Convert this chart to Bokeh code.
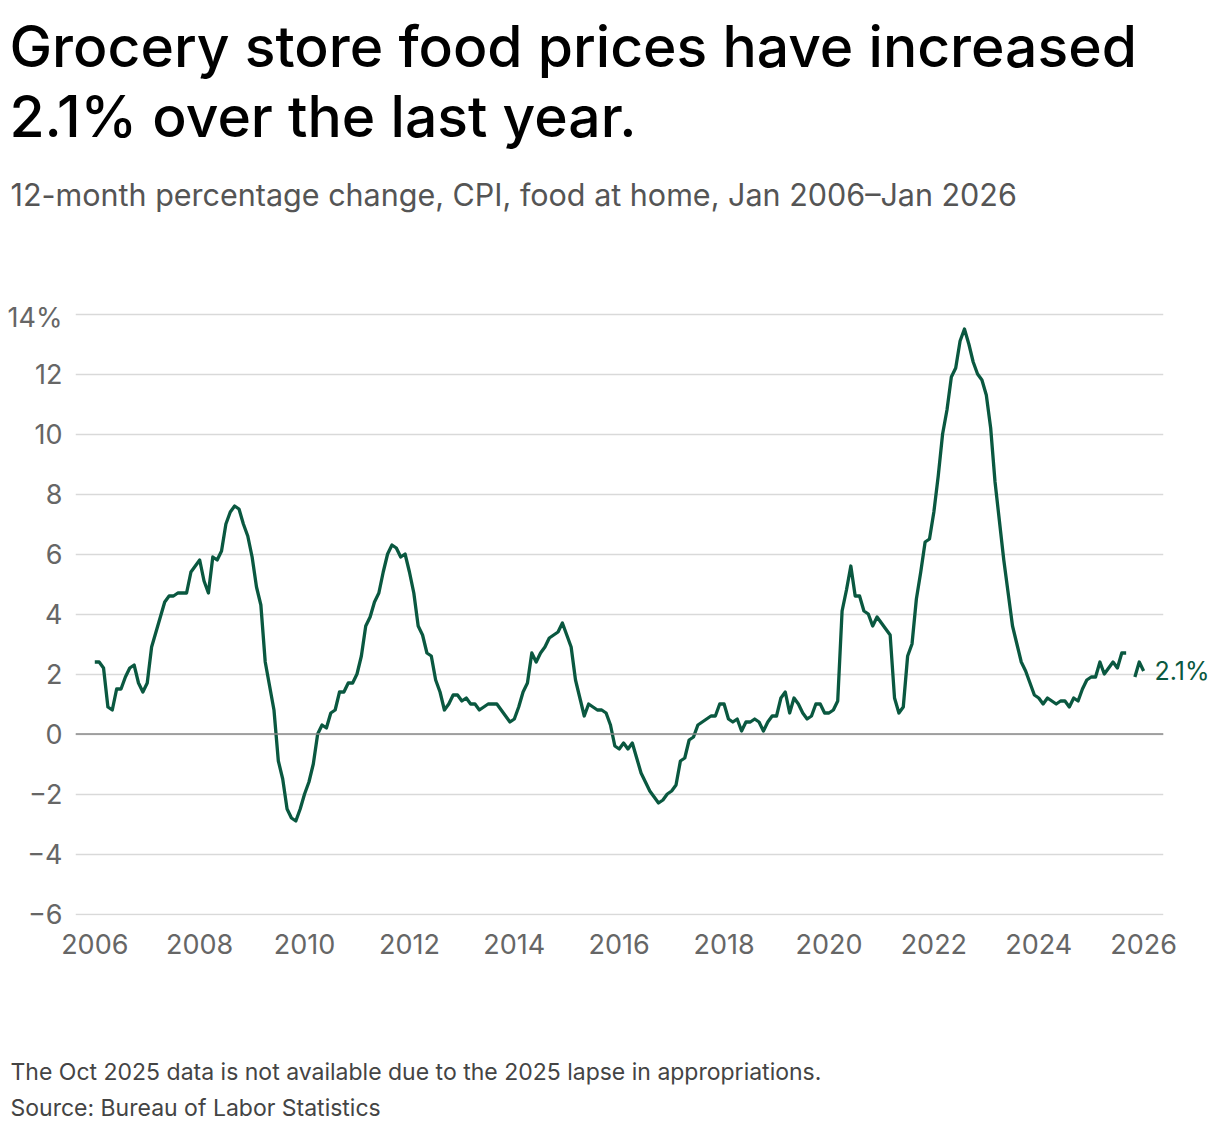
import pandas as pd
from bokeh.plotting import figure
from bokeh.layouts import column
from bokeh.models import (Label, Span, FixedTicker, CustomJSTickFormatter, Range1d,
                          ColumnDataSource, LinearAxis)
from bokeh.embed import file_html
from bokeh.resources import INLINE

# 12-month % change, CPI food at home, monthly Jan 2006 - Jan 2026 (Oct 2025 missing)
start_month = "2006-01-01"
y2006 = [2.4, 2.4, 2.2, 0.9, 0.8, 1.5, 1.5, 1.9, 2.2, 2.3, 1.7, 1.4]
y2007 = [1.7, 2.9, 3.4, 3.9, 4.4, 4.6, 4.6, 4.7, 4.7, 4.7, 5.4, 5.6]
y2008 = [5.8, 5.1, 4.7, 5.9, 5.8, 6.1, 7.0, 7.4, 7.6, 7.5, 7.0, 6.6]
y2009 = [5.9, 4.9, 4.3, 2.4, 1.6, 0.8, -0.9, -1.5, -2.5, -2.8, -2.9, -2.5]
y2010 = [-2.0, -1.6, -1.0, 0.0, 0.3, 0.2, 0.7, 0.8, 1.4, 1.4, 1.7, 1.7]
y2011 = [2.0, 2.6, 3.6, 3.9, 4.4, 4.7, 5.4, 6.0, 6.3, 6.2, 5.9, 6.0]
y2012 = [5.4, 4.7, 3.6, 3.3, 2.7, 2.6, 1.8, 1.4, 0.8, 1.0, 1.3, 1.3]
y2013 = [1.1, 1.2, 1.0, 1.0, 0.8, 0.9, 1.0, 1.0, 1.0, 0.8, 0.6, 0.4]
y2014 = [0.5, 0.9, 1.4, 1.7, 2.7, 2.4, 2.7, 2.9, 3.2, 3.3, 3.4, 3.7]
y2015 = [3.3, 2.9, 1.8, 1.2, 0.6, 1.0, 0.9, 0.8, 0.8, 0.7, 0.3, -0.4]
y2016 = [-0.5, -0.3, -0.5, -0.3, -0.8, -1.3, -1.6, -1.9, -2.1, -2.3, -2.2, -2.0]
y2017 = [-1.9, -1.7, -0.9, -0.8, -0.2, -0.1, 0.3, 0.4, 0.5, 0.6, 0.6, 1.0]
y2018 = [1.0, 0.5, 0.4, 0.5, 0.1, 0.4, 0.4, 0.5, 0.4, 0.1, 0.4, 0.6]
y2019 = [0.6, 1.2, 1.4, 0.7, 1.2, 1.0, 0.7, 0.5, 0.6, 1.0, 1.0, 0.7]
y2020 = [0.7, 0.8, 1.1, 4.1, 4.8, 5.6, 4.6, 4.6, 4.1, 4.0, 3.6, 3.9]
y2021 = [3.7, 3.5, 3.3, 1.2, 0.7, 0.9, 2.6, 3.0, 4.5, 5.4, 6.4, 6.5]
y2022 = [7.4, 8.6, 10.0, 10.8, 11.9, 12.2, 13.1, 13.5, 13.0, 12.4, 12.0, 11.8]
y2023 = [11.3, 10.2, 8.4, 7.1, 5.8, 4.7, 3.6, 3.0, 2.4, 2.1, 1.7, 1.3]
y2024 = [1.2, 1.0, 1.2, 1.1, 1.0, 1.1, 1.1, 0.9, 1.2, 1.1, 1.5, 1.8]
y2025 = [1.9, 1.9, 2.4, 2.0, 2.2, 2.4, 2.2, 2.7, 2.7, float("nan"), 1.9, 2.4]
y2026 = [2.1]

values = (y2006 + y2007 + y2008 + y2009 + y2010 + y2011 + y2012 + y2013 + y2014 +
          y2015 + y2016 + y2017 + y2018 + y2019 + y2020 + y2021 + y2022 + y2023 +
          y2024 + y2025 + y2026)

y_ticks = [-6, -4, -2, 0, 2, 4, 6, 8, 10, 12, 14]
x_ticks = [2006, 2008, 2010, 2012, 2014, 2016, 2018, 2020, 2022, 2024, 2026]

title_1 = "Grocery store food prices have increased"
title_2 = "2.1% over the last year."
subtitle = "12-month percentage change, CPI, food at home, Jan 2006\u2013Jan 2026"
note = "The Oct 2025 data is not available due to the 2025 lapse in appropriations."
source = "Source: Bureau of Labor Statistics"
end_label = "2.1%"

dates = pd.date_range(start_month, periods=len(values), freq="MS")
xs = list(dates.year + (dates.month - 1) / 12.0)
src = ColumnDataSource(dict(x=xs, y=values))

GREEN = "#0a5840"
FONT = "Inter"
TITLE_FONT = "'Inter Medium', Inter"
W = 1212


def text_panel(height):
    f = figure(width=W, height=height, output_backend="svg", toolbar_location=None,
               x_range=Range1d(0, W), y_range=Range1d(height, 0),
               x_axis_location=None, y_axis_location=None, frame_align=False,
               min_border_left=0, min_border_right=0, min_border_top=0, min_border_bottom=0)
    f.grid.visible = False
    f.outline_line_color = None
    f.background_fill_color = "white"
    f.border_fill_color = "white"
    return f


def put(f, x, y, text, size, color, font=FONT):
    f.add_layout(Label(x=x, y=y, text=text, text_baseline="alphabetic", text_align="left",
                       text_font=font, text_font_size=size, text_color=color))


# header
head = text_panel(300)
put(head, 9, 46, title_1, "57px", "#000000", TITLE_FONT)
put(head, 9, 116, title_2, "57px", "#000000", TITLE_FONT)
put(head, 10, 194, subtitle, "30.5px", "#555555")

# chart
p = figure(width=W, height=740, output_backend="svg", toolbar_location=None,
           x_range=Range1d(2005.632, 2026.379), y_range=Range1d(-6.05, 14.05),
           min_border_left=75, min_border_right=W - 1164, min_border_top=12,
           min_border_bottom=125, frame_align=False)
p.outline_line_color = None
p.background_fill_color = "white"
p.border_fill_color = "white"

p.xgrid.visible = False
p.ygrid.ticker = FixedTicker(ticks=y_ticks)
p.ygrid.grid_line_color = "#d9d9d9"
p.ygrid.grid_line_width = 1.5

p.yaxis.ticker = FixedTicker(ticks=y_ticks)
p.xaxis.ticker = FixedTicker(ticks=x_ticks)
p.yaxis.formatter = CustomJSTickFormatter(code="""
if (tick == 14) { return '14%'; }
if (tick < 0) { return '\u2212' + Math.abs(tick).toFixed(0); }
return tick.toFixed(0);
""")
p.xaxis.formatter = CustomJSTickFormatter(code="return tick.toFixed(0);")
for ax in (p.xaxis, p.yaxis):
    ax.axis_line_color = None
    ax.major_tick_line_color = None
    ax.minor_tick_line_color = None
    ax.major_tick_out = 0
    ax.major_tick_in = 0
    ax.major_label_text_font = FONT
    ax.major_label_text_font_size = "27px"
    ax.major_label_text_color = "#666666"
p.yaxis.major_label_standoff = 13
p.xaxis.major_label_standoff = 18

# end-of-line value label as a right-hand axis with a single tick at the last value
end_axis = LinearAxis(ticker=FixedTicker(ticks=[values[-1]]),
                      formatter=CustomJSTickFormatter(code="return '%s';" % end_label))
end_axis.axis_line_color = None
end_axis.major_tick_line_color = None
end_axis.minor_tick_line_color = None
end_axis.major_tick_out = 0
end_axis.major_tick_in = 0
end_axis.major_label_standoff = -9
end_axis.major_label_text_font = FONT
end_axis.major_label_text_font_size = "25px"
end_axis.major_label_text_color = GREEN
p.add_layout(end_axis, "right")

p.add_layout(Span(location=0, dimension="width", line_color="#8a8a8a", line_width=1.5))

p.line("x", "y", source=src, line_color=GREEN, line_width=3.3, line_join="round")

# footer
foot = text_panel(84)
put(foot, 10, 31, note, "23px", "#444444")
put(foot, 10, 67, source, "23px", "#444444")

layout = column(head, p, foot, spacing=0)
open("out.html", "w").write(file_html(layout, INLINE))
